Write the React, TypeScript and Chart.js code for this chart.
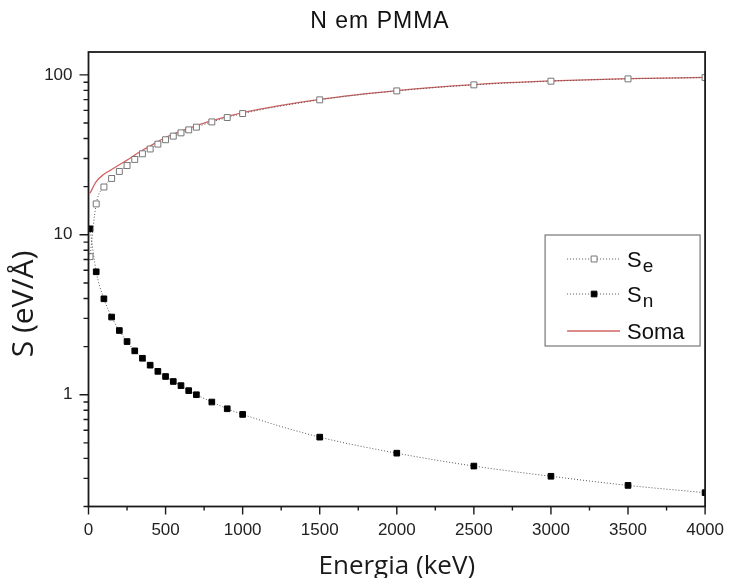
import React, { useEffect, useRef } from 'react';
import { Chart, registerables } from 'chart.js';

Chart.register(...registerables);

// ---- data ----
const energia = [10, 50, 100, 150, 200, 250, 300, 350, 400, 450, 500, 550, 600, 650, 700, 800, 900, 1000, 1500, 2000, 2500, 3000, 3500, 4000];
const seValues = [7.3, 15.6, 19.9, 22.5, 24.9, 27.1, 29.6, 32.1, 34.4, 36.9, 39.3, 41.4, 43.4, 45.3, 47.1, 50.8, 54.1, 57.3, 69.8, 79.4, 86.6, 91.3, 94.4, 96.2];
const snValues = [10.9, 5.87, 3.98, 3.06, 2.52, 2.15, 1.88, 1.69, 1.53, 1.4, 1.3, 1.21, 1.14, 1.06, 1.0, 0.9, 0.817, 0.753, 0.543, 0.431, 0.358, 0.309, 0.271, 0.244];
const somaValues = [18.2, 21.5, 23.9, 25.6, 27.4, 29.3, 31.5, 33.8, 35.9, 38.3, 40.6, 42.6, 44.5, 46.4, 48.1, 51.7, 54.9, 58.1, 70.3, 79.8, 87.0, 91.6, 94.7, 96.4];

const seriesLabels = ['Se', 'Sn', 'Soma'];
const legendMain = ['S', 'S', 'Soma'];
const legendSub = ['e', 'n', ''];
const yLabelValues = [1, 10, 100];
const xMin = 0;
const xMax = 4000;
const xStep = 500;
const xMinorStep = 250;
const yMin = 0.2;
const yMax = 139;

const chartTitle = 'N em PMMA';
const xTitle = 'Energia (keV)';
const yTitle = 'S (eV/Å)';

const decorPlugin = {
  id: 'decor',
  afterDraw(chart: any) {
    const { ctx, chartArea: a, scales } = chart;
    const xs = scales.x;
    const ys = scales.y;
    ctx.save();

    // frame
    ctx.strokeStyle = '#1a1a1a';
    ctx.lineWidth = 1.8;
    ctx.strokeRect(a.left, a.top, a.right - a.left, a.bottom - a.top);

    // tick marks
    ctx.lineWidth = 1.4;
    ctx.beginPath();
    for (const d of [0.1, 1, 10, 100]) {
      for (let m = 1; m <= 9; m++) {
        const v = m * d;
        if (v < yMin * 0.999 || v > yMax) continue;
        const py = ys.getPixelForValue(v);
        const len = m === 1 ? 9 : 5;
        ctx.moveTo(a.left - len, py);
        ctx.lineTo(a.left, py);
      }
    }
    for (let v = xMin; v <= xMax; v += xMinorStep) {
      const px = xs.getPixelForValue(v);
      const len = v % xStep === 0 ? 8 : 4;
      ctx.moveTo(px, a.bottom);
      ctx.lineTo(px, a.bottom + len);
    }
    ctx.stroke();

    // chart title
    ctx.fillStyle = '#111';
    ctx.font = '23px "Liberation Sans", Arial, sans-serif';
    ctx.textAlign = 'center';
    ctx.textBaseline = 'alphabetic';
    try { (ctx as any).letterSpacing = '1px'; } catch (e) {}
    ctx.fillText(chartTitle, 380, 28);
    try { (ctx as any).letterSpacing = '0px'; } catch (e) {}

    // x title
    ctx.fillStyle = '#1a1a1a';
    ctx.font = '26px "Open Sans", sans-serif';
    ctx.fillText(xTitle, (a.left + a.right) / 2, 574);

    // y title
    ctx.save();
    ctx.translate(33, 304);
    ctx.rotate(-Math.PI / 2);
    ctx.font = '30px "Open Sans", sans-serif';
    ctx.textAlign = 'center';
    ctx.fillText(yTitle, 0, 0);
    ctx.restore();

    // legend
    const lx = a.right - 160;
    const ly = a.top + 183;
    const lw = 155;
    const lh = 111;
    ctx.fillStyle = '#fff';
    ctx.fillRect(lx, ly, lw, lh);
    ctx.strokeStyle = '#777';
    ctx.lineWidth = 1.2;
    ctx.strokeRect(lx, ly, lw, lh);

    const rows = [ly + 24, ly + 59, ly + 96];
    chart.data.datasets.forEach((ds: any, i: number) => {
      const ry = rows[i];
      ctx.save();
      ctx.strokeStyle = ds.borderColor;
      ctx.lineWidth = ds.borderWidth;
      ctx.setLineDash(ds.borderDash || []);
      ctx.beginPath();
      ctx.moveTo(lx + 22, ry);
      ctx.lineTo(lx + 75, ry);
      ctx.stroke();
      ctx.setLineDash([]);
      if (ds.pointRadius > 0) {
        const s = ds.pointRadius * Math.SQRT1_2;
        ctx.fillStyle = ds.pointBackgroundColor;
        ctx.strokeStyle = ds.pointBorderColor;
        ctx.lineWidth = ds.pointBorderWidth;
        ctx.beginPath();
        ctx.rect(lx + 49 - s, ry - s, 2 * s, 2 * s);
        ctx.fill();
        ctx.stroke();
      }
      ctx.restore();
      ctx.fillStyle = '#111';
      ctx.textAlign = 'left';
      ctx.textBaseline = 'alphabetic';
      ctx.font = '22px "Liberation Sans", Arial, sans-serif';
      const tx = lx + 82;
      ctx.fillText(legendMain[i], tx, ry + 8);
      if (legendSub[i]) {
        const w = ctx.measureText(legendMain[i]).width;
        ctx.font = '19px "Liberation Sans", Arial, sans-serif';
        ctx.fillText(legendSub[i], tx + w + 1, ry + 13);
      }
    });

    ctx.restore();
  },
};

const toPoints = (ys: number[]) => energia.map((e, i) => ({ x: e, y: ys[i] }));

export default function App() {
  const ref = useRef<HTMLCanvasElement>(null);

  useEffect(() => {
    const canvas = ref.current;
    if (!canvas) return;
    const tickFont = { family: '"Liberation Sans", Arial, sans-serif', size: 17 };
    const chart = new Chart(canvas, {
      type: 'line',
      data: {
        datasets: [
          {
            label: seriesLabels[0],
            data: toPoints(seValues),
            borderColor: '#555',
            borderWidth: 1,
            borderDash: [1, 2],
            pointStyle: 'rect',
            pointRadius: 4.2,
            pointBackgroundColor: '#fff',
            pointBorderColor: '#777',
            pointBorderWidth: 1,
            cubicInterpolationMode: 'monotone',
            fill: false,
          },
          {
            label: seriesLabels[1],
            data: toPoints(snValues),
            borderColor: '#555',
            borderWidth: 1,
            borderDash: [1, 2],
            pointStyle: 'rect',
            pointRadius: 4,
            pointBackgroundColor: '#000',
            pointBorderColor: '#000',
            pointBorderWidth: 1,
            cubicInterpolationMode: 'monotone',
            fill: false,
          },
          {
            label: seriesLabels[2],
            data: toPoints(somaValues),
            borderColor: '#d26464',
            borderWidth: 1.3,
            pointRadius: 0,
            cubicInterpolationMode: 'monotone',
            fill: false,
          },
        ],
      } as any,
      options: {
        animation: false,
        responsive: true,
        maintainAspectRatio: false,
        layout: { padding: { left: 0, right: 22, top: 52, bottom: 0 } },
        plugins: {
          legend: { display: false },
          title: { display: false },
          tooltip: { enabled: false },
        },
        scales: {
          x: {
            type: 'linear',
            min: xMin,
            max: xMax,
            border: { display: false },
            grid: { display: true, drawOnChartArea: false, drawTicks: true, tickLength: 8, tickColor: 'rgba(0,0,0,0)' },
            ticks: {
              stepSize: xStep,
              font: tickFont,
              color: '#222',
              padding: 6,
              maxRotation: 0,
              callback: (v: any) => String(v),
            },
            afterFit: (s: any) => { s.height = 71.5; },
          },
          y: {
            type: 'logarithmic',
            min: yMin,
            max: yMax,
            border: { display: false },
            grid: { display: true, drawOnChartArea: false, drawTicks: true, tickLength: 9, tickColor: 'rgba(0,0,0,0)' },
            ticks: {
              autoSkip: false,
              font: tickFont,
              color: '#222',
              padding: 7,
              callback: (v: any) => {
                const n = Number(v);
                const hit = yLabelValues.find((t) => Math.abs(n - t) < t * 1e-6);
                return hit !== undefined ? String(hit) : '';
              },
            },
            afterFit: (s: any) => { s.width = 88.5; },
          },
        },
      } as any,
      plugins: [decorPlugin],
    });
    return () => chart.destroy();
  }, []);

  return (
    <div style={{ position: 'absolute', left: 0, top: 0, width: 730, height: 578, background: '#fff' }}>
      <canvas ref={ref} />
    </div>
  );
}
